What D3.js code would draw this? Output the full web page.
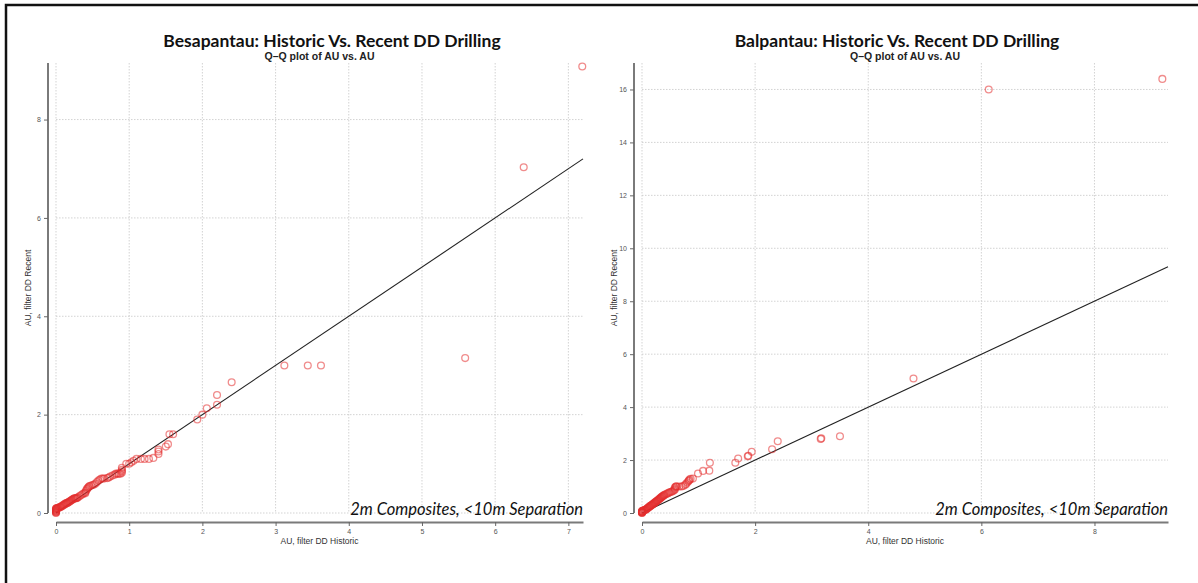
<!DOCTYPE html>
<html>
<head>
<meta charset="utf-8">
<script src="https://cdn.jsdelivr.net/npm/d3@7"></script>
<style>
  html, body { margin: 0; padding: 0; background: #fff; }
  svg { display: block; }
</style>
</head>
<body>
<svg id="chart" width="1198" height="583"></svg>
<script>
// Besapantau: paired quantiles (historic vs recent DD drilling), AU g/t
const besHistoric = [
  0,0,0,0,0,0,0,0,0,0,
  0.01,0.01,
  0.02,0.03,0.04,0.05,0.06,0.07,0.08,0.09,0.1,
  0.11,0.12,0.13,0.14,0.15,0.16,0.17,0.18,0.19,0.2,
  0.21,0.22,0.23,0.24,0.25,0.26,0.27,0.28,0.29,0.3,
  0.32,0.34,0.36,0.38,0.4,0.4,
  0.41,0.42,0.43,0.44,0.45,0.46,0.48,0.5,
  0.52,0.54,0.56,0.58,0.6,
  0.62,0.64,0.66,0.7,0.72,0.74,0.77,0.8,0.82,0.84,0.86,0.88,0.9,0.9,0.9,0.9,
  0.96,1.0,1.03,1.06,1.1,1.16,1.21,1.27,1.33,1.4,1.4,1.4,1.5,1.53,1.55,1.6,1.93,2.0,2.06,2.2,
  2.2,2.4,3.12,3.44,3.62,5.59,6.39,7.19];
const besRecent = [
  0,0.01,0.02,0.03,0.04,0.05,0.06,0.07,0.08,0.09,
  0.09,0.1,
  0.1,0.1,0.11,0.12,0.12,0.13,0.14,0.15,0.16,
  0.17,0.18,0.19,0.2,0.2,0.21,0.22,0.23,0.24,0.25,
  0.26,0.27,0.28,0.29,0.3,0.3,0.3,0.3,0.31,0.32,
  0.34,0.36,0.38,0.4,0.4,0.42,
  0.45,0.48,0.5,0.52,0.54,0.55,0.56,0.57,
  0.58,0.6,0.63,0.66,0.68,
  0.7,0.7,0.7,0.71,0.72,0.74,0.76,0.78,0.8,0.8,0.8,0.8,0.82,0.85,0.88,0.92,
  1.0,1.0,1.03,1.06,1.1,1.1,1.1,1.1,1.12,1.2,1.25,1.29,1.35,1.4,1.6,1.6,1.9,2.0,2.13,2.2,
  2.4,2.66,3.0,3.0,3.0,3.15,7.03,9.08];

// Balpantau: paired quantiles (historic vs recent DD drilling), AU g/t
const balHistoric = [
  0,0,0,0,0,0,0,0,
  0.01,0.02,0.03,0.04,0.05,0.06,0.07,0.08,0.09,0.1,
  0.11,0.12,0.13,0.14,0.15,0.16,0.17,0.18,0.19,0.2,
  0.21,0.22,0.23,0.24,0.25,0.26,0.27,0.28,0.29,0.3,
  0.31,0.32,0.33,0.34,0.35,0.36,0.37,0.38,0.39,0.4,
  0.42,0.44,0.46,0.48,0.5,0.52,0.54,0.56,0.58,0.58,0.58,0.6,0.6,
  0.62,0.66,0.7,0.73,0.76,0.78,0.8,0.82,0.83,0.84,0.86,0.9,
  0.99,1.08,1.19,1.2,1.65,1.7,1.87,1.88,1.94,2.3,2.4,3.16,3.17,3.5,4.8,6.13,9.2];
const balRecent = [
  0,0.01,0.02,0.03,0.04,0.05,0.06,0.07,
  0.08,0.09,0.1,0.1,0.11,0.12,0.13,0.15,0.17,0.19,
  0.2,0.22,0.24,0.25,0.27,0.28,0.3,0.31,0.33,0.35,
  0.37,0.38,0.4,0.41,0.43,0.45,0.46,0.48,0.5,0.52,
  0.54,0.56,0.57,0.59,0.61,0.62,0.64,0.66,0.67,0.69,
  0.71,0.73,0.75,0.77,0.79,0.8,0.82,0.85,0.88,0.92,0.96,1.0,1.0,
  1.0,1.0,1.0,1.02,1.06,1.1,1.15,1.2,1.23,1.26,1.29,1.3,
  1.49,1.59,1.6,1.9,1.9,2.06,2.14,2.16,2.31,2.41,2.71,2.8,2.82,2.9,5.08,16.0,16.4];

const besXTicks = [0,1,2,3,4,5,6,7];
const besYTicks = [0,2,4,6,8];
const balXTicks = [0,2,4,6,8];
const balYTicks = [0,2,4,6,8,10,12,14,16];

const panels = [
  {
    title: "Besapantau: Historic Vs. Recent DD Drilling",
    historic: besHistoric, recent: besRecent,
    xMax: 7.2, yMax: 9.15, xTicks: besXTicks, yTicks: besYTicks,
    left: 56, right: 583, titleX: 332
  },
  {
    title: "Balpantau: Historic Vs. Recent DD Drilling",
    historic: balHistoric, recent: balRecent,
    xMax: 9.3, yMax: 17.0, xTicks: balXTicks, yTicks: balYTicks,
    left: 642, right: 1168, titleX: 897
  }
];

const svg = d3.select("#chart");
const plotTop = 63, plotBottom = 513;

// outer frame
svg.append("rect")
  .attr("x", 6).attr("y", 5).attr("width", 1210).attr("height", 600)
  .attr("fill", "none").attr("stroke", "#111").attr("stroke-width", 2.5);

panels.forEach(p => {
  const x = d3.scaleLinear().domain([0, p.xMax]).range([p.left, p.right]);
  const y = d3.scaleLinear().domain([0, p.yMax]).range([plotBottom, plotTop]);
  const g = svg.append("g");

  // dotted grid
  g.append("g").selectAll("line").data(p.xTicks).join("line")
    .attr("x1", d => x(d)).attr("x2", d => x(d))
    .attr("y1", plotTop).attr("y2", plotBottom)
    .attr("stroke", "#c8c8c8").attr("stroke-width", 0.8).attr("stroke-dasharray", "1.5,1.5");
  g.append("g").selectAll("line").data(p.yTicks).join("line")
    .attr("x1", p.left).attr("x2", p.right)
    .attr("y1", d => y(d)).attr("y2", d => y(d))
    .attr("stroke", "#c8c8c8").attr("stroke-width", 0.8).attr("stroke-dasharray", "1.5,1.5");

  // axes (offset from the plotting region)
  const xAxis = g.append("g").attr("transform", `translate(0,${plotBottom + 9})`)
    .call(d3.axisBottom(x).tickValues(p.xTicks).tickSize(4).tickSizeOuter(0).tickPadding(3));
  const yAxis = g.append("g").attr("transform", `translate(${p.left - 8},0)`)
    .call(d3.axisLeft(y).tickValues(p.yTicks).tickSize(4).tickSizeOuter(0).tickPadding(3));
  [xAxis, yAxis].forEach(a => {
    a.select(".domain").attr("stroke", "#7a7a7a").attr("stroke-width", 2);
    a.selectAll(".tick line").attr("stroke", "#666").attr("stroke-width", 1);
    a.selectAll(".tick text").attr("fill", "#555").style("font-family", "Liberation Sans, Arial, sans-serif").style("font-size", "7px");
  });
  yAxis.select(".domain").attr("d", `M0,${plotBottom}V${plotTop}`);

  // reference line y = x
  const lineEnd = Math.min(p.xMax, p.yMax);
  g.append("line")
    .attr("x1", x(0)).attr("y1", y(0))
    .attr("x2", x(lineEnd)).attr("y2", y(lineEnd))
    .attr("stroke", "#222").attr("stroke-width", 1.1);

  // quantile pairs
  const pts = p.historic.map((h, i) => [h, p.recent[i]]);
  g.append("g").selectAll("circle").data(pts).join("circle")
    .attr("cx", d => x(d[0])).attr("cy", d => y(d[1])).attr("r", 3.4)
    .attr("fill", "none").attr("stroke", "rgb(228,45,45)").attr("stroke-opacity", 0.55).attr("stroke-width", 1.3);

  // titles
  g.append("text").attr("x", p.titleX).attr("y", 47).attr("text-anchor", "middle")
    .style("font-family", "Lato, 'Open Sans', sans-serif").style("font-weight", "bold").style("font-size", "17.5px")
    .attr("fill", "#111").text(p.title);
  g.append("text").attr("x", (p.left + p.right) / 2).attr("y", 60).attr("text-anchor", "middle")
    .style("font-family", "Liberation Sans, Arial, sans-serif").style("font-weight", "bold").style("font-size", "10.5px")
    .attr("fill", "#222").text("Q\u2013Q plot of AU vs. AU");

  // axis titles
  g.append("text").attr("x", (p.left + p.right) / 2).attr("y", 544).attr("text-anchor", "middle")
    .style("font-family", "Liberation Sans, Arial, sans-serif").style("font-size", "8.5px")
    .attr("fill", "#333").text("AU, filter DD Historic");
  g.append("text").attr("transform", `translate(${p.left - 25},${(plotTop + plotBottom) / 2}) rotate(-90)`)
    .attr("text-anchor", "middle")
    .style("font-family", "Liberation Sans, Arial, sans-serif").style("font-size", "8.5px")
    .attr("fill", "#333").text("AU, filter DD Recent");

  // annotation
  g.append("text").attr("x", p.right).attr("y", 515).attr("text-anchor", "end")
    .style("font-family", "Lato, 'Open Sans', sans-serif").style("font-style", "italic").style("font-size", "16.5px")
    .attr("fill", "#111").text("2m Composites, <10m Separation");
});
</script>
</body>
</html>
